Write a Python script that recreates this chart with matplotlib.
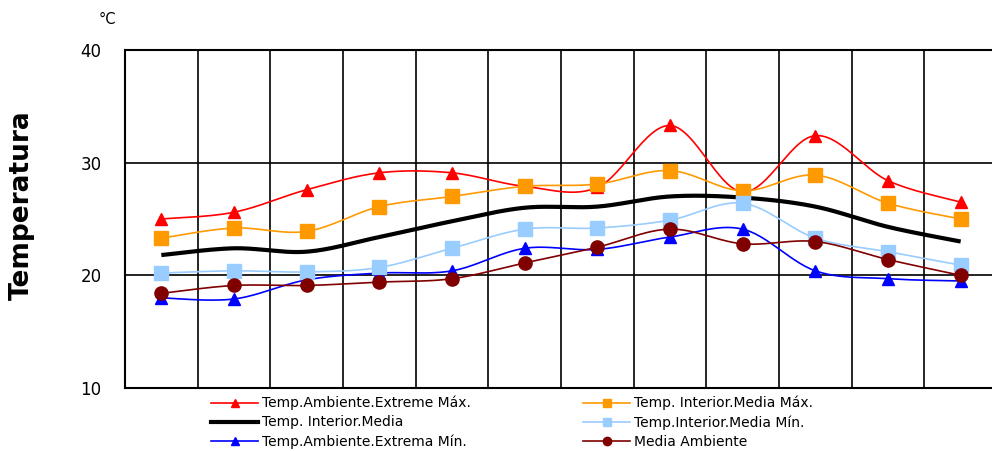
import numpy as np
import matplotlib
matplotlib.use("Agg")
import matplotlib.pyplot as plt
from matplotlib.lines import Line2D

# Monthly temperature series (°C), twelve periods
periods = list(range(1, 13))
amb_ext_max = [25.0, 25.6, 27.6, 29.1, 29.1, 27.9, 27.8, 33.3, 27.4, 32.4, 28.4, 26.5]
int_media_max = [23.3, 24.2, 23.9, 26.1, 27.0, 27.9, 28.1, 29.3, 27.5, 28.9, 26.4, 25.0]
int_media = [21.8, 22.4, 22.1, 23.4, 24.8, 26.0, 26.1, 27.0, 26.9, 26.1, 24.3, 23.0]
int_media_min = [20.2, 20.4, 20.3, 20.7, 22.4, 24.1, 24.2, 24.9, 26.4, 23.3, 22.1, 20.9]
amb_ext_min = [18.0, 17.9, 19.6, 20.2, 20.4, 22.4, 22.3, 23.4, 24.1, 20.4, 19.7, 19.5]
media_amb = [18.4, 19.1, 19.1, 19.4, 19.7, 21.1, 22.5, 24.1, 22.8, 23.0, 21.4, 20.0]
y_ticks = [10, 20, 30, 40]


def smooth(x, y, n=30):
    """Catmull-Rom style smoothing through every point (Bezier segments)."""
    x = np.asarray(x, float)
    y = np.asarray(y, float)
    px = np.concatenate([[x[0]], x, [x[-1]]])
    py = np.concatenate([[y[0]], y, [y[-1]]])
    xs, ys = [], []
    t = np.linspace(0, 1, n)
    for i in range(1, len(px) - 2):
        p0 = np.array([px[i], py[i]])
        p3 = np.array([px[i + 1], py[i + 1]])
        p1 = p0 + (np.array([px[i + 1], py[i + 1]]) - np.array([px[i - 1], py[i - 1]])) / 6
        p2 = p3 - (np.array([px[i + 2], py[i + 2]]) - np.array([px[i], py[i]])) / 6
        b = ((1 - t) ** 3)[:, None] * p0 + (3 * (1 - t) ** 2 * t)[:, None] * p1 \
            + (3 * (1 - t) * t ** 2)[:, None] * p2 + (t ** 3)[:, None] * p3
        xs.append(b[:, 0])
        ys.append(b[:, 1])
    return np.concatenate(xs), np.concatenate(ys)


fig = plt.figure(figsize=(9.92, 4.51), dpi=100)
W, H = 992, 451
left, right, top, bottom = 125, 997, 50, 388
ax = fig.add_axes([left / W, 1 - bottom / H, (right - left) / W, (bottom - top) / H])

x = np.arange(len(periods)) + 0.5

series = [
    (amb_ext_max, "#FF0000", "^", 1.2, 9, "Temp.Ambiente.Extreme Máx."),
    (int_media, "#000000", None, 3.0, 0, "Temp. Interior.Media"),
    (amb_ext_min, "#0000FF", "^", 1.2, 9, "Temp.Ambiente.Extrema Mín."),
    (int_media_max, "#FF9900", "s", 1.2, 9.5, "Temp. Interior.Media Máx."),
    (int_media_min, "#99CCFF", "s", 1.2, 9.5, "Temp.Interior.Media Mín."),
    (media_amb, "#800000", "o", 1.2, 9.5, "Media Ambiente"),
]
handles = []
for idx, (vals, col, mk, lw, ms, lab) in enumerate(series):
    sx, sy = smooth(x, vals)
    ax.plot(sx, sy, color=col, lw=lw, zorder=3 + idx * 0.1, solid_capstyle="butt")
    if mk:
        ax.plot(x, vals, ls="none", marker=mk, ms=ms, color=col, mec=col, zorder=3.05 + idx * 0.1)
    handles.append(Line2D([], [], color=col, lw=lw if mk else 3.0, marker=mk, ms=6, label=lab))

ax.set_xlim(0, 12)
ax.set_ylim(10, 40)
ax.set_yticks(y_ticks)
ax.set_xticks(np.arange(0, 13))
ax.tick_params(axis="x", length=0, labelbottom=False)
ax.tick_params(axis="y", length=0, pad=17, labelsize=12)
ax.grid(True, color="black", lw=1.2, zorder=1)
for s in ax.spines.values():
    s.set_linewidth(1.5)
ax.set_axisbelow(True)

fig.text(22 / W, 1 - 205 / H, "Temperatura", rotation=90, ha="center", va="center",
         fontsize=19, fontweight="bold", family="DejaVu Sans")
fig.text(107 / W, 1 - 19 / H, "°C", ha="center", va="center", fontsize=10.5)

fig.legend(handles=handles, ncol=2, loc="upper left",
           bbox_to_anchor=(211 / W, 1 - 396 / H), frameon=False,
           fontsize=10, handlelength=3.4, handletextpad=0.3, columnspacing=8.05,
           labelspacing=0.35, borderaxespad=0, borderpad=0)

fig.savefig("out.png", dpi=100)
